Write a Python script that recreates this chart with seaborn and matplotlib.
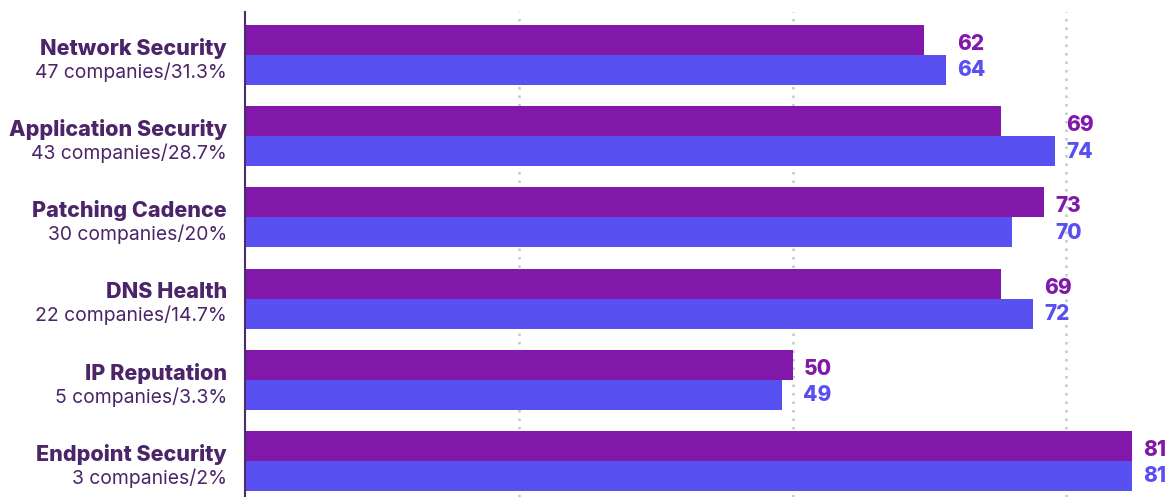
import matplotlib
matplotlib.use("Agg")
import matplotlib.pyplot as plt
import matplotlib.transforms as mtransforms
import seaborn as sns
import pandas as pd

categories = ["Network Security", "Application Security", "Patching Cadence",
              "DNS Health", "IP Reputation", "Endpoint Security"]
subtitles = ["47 companies/31.3%", "43 companies/28.7%", "30 companies/20%",
             "22 companies/14.7%", "5 companies/3.3%", "3 companies/2%"]
series_a = [62, 69, 73, 69, 50, 81]
series_b = [64, 74, 70, 72, 49, 81]
series_names = ["A", "B"]
grid_ticks = [25, 50, 75]

PURPLE = "#8218A9"
BLUE = "#5850F0"
TEXT = "#4B2469"

sns.set_theme(style="white")
plt.rcParams["font.family"] = ["Inter", "DejaVu Sans"]

df = pd.DataFrame({
    "category": categories * 2,
    "series": [series_names[0]] * len(categories) + [series_names[1]] * len(categories),
    "value": series_a + series_b,
})

fig = plt.figure(figsize=(11.67, 4.97), dpi=100)
ax = fig.add_axes([245 / 1167, 0, 1 - 245 / 1167, (497 - 12) / 497])

sns.barplot(data=df, y="category", x="value", hue="series", order=categories,
            hue_order=series_names, palette=[PURPLE, BLUE], orient="h",
            width=0.74, dodge=True, saturation=1, ax=ax, legend=False,
            linewidth=0, errorbar=None)

ax.set_xlim(0, 84.2)
ax.set_ylim(5.445, -0.53)
ax.set_xlabel("")
ax.set_ylabel("")
ax.set_xticks(grid_ticks)
ax.set_xticklabels([])
ax.tick_params(axis="both", length=0)
ax.set_yticks(range(len(categories)))
ax.set_yticklabels([])
ax.grid(axis="x", color="#BCCBCB", linestyle=(0, (1, 2.4)), linewidth=1.8)
ax.grid(axis="y", visible=False)
ax.set_axisbelow(True)
for s in ["top", "right", "bottom"]:
    ax.spines[s].set_visible(False)
ax.spines["left"].set_color("#4B2D6B")
ax.spines["left"].set_linewidth(1.5)

trans = mtransforms.blended_transform_factory(ax.transAxes, ax.transData)
xoff = -18 / (1167 - 245)
for i, (cat, sub) in enumerate(zip(categories, subtitles)):
    ax.text(xoff, i - 0.08, cat, transform=trans, ha="right", va="center",
            fontsize=15.5, fontweight=800, color=TEXT)
    ax.text(xoff, i + 0.21, sub, transform=trans, ha="right", va="center",
            fontsize=13.9, color=TEXT)

for i, (a, b) in enumerate(zip(series_a, series_b)):
    x = max(a, b) + 1.0
    ax.text(x, i - 0.135, f"{a}", ha="left", va="center", fontsize=15,
            fontweight=800, color=PURPLE)
    ax.text(x, i + 0.19, f"{b}", ha="left", va="center", fontsize=15,
            fontweight=800, color=BLUE)

fig.savefig("out.png", dpi=100)
